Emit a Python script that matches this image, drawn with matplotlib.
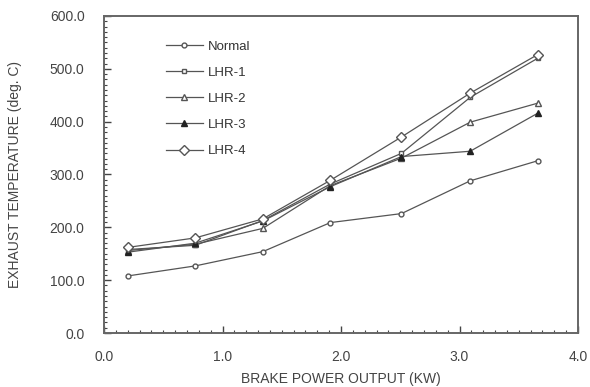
"""Exhaust temperature vs brake power output for normal and LHR engines."""

import matplotlib as mpl
import matplotlib.pyplot as plt
from matplotlib.ticker import MultipleLocator, FormatStrFormatter

mpl.rcParams["font.family"] = ["Liberation Sans", "DejaVu Sans"]

power = [0.2, 0.77, 1.34, 1.91, 2.51, 3.09, 3.66]
normal = [108, 127, 154, 209, 226, 288, 326]
lhr1 = [158, 166, 213, 282, 340, 446, 520]
lhr2 = [156, 168, 198, 279, 331, 399, 435]
lhr3 = [153, 170, 212, 277, 334, 344, 416]
lhr4 = [162, 180, 216, 289, 371, 454, 527]

GREY = "#555555"


def main():
    fig = plt.figure(figsize=(5.9, 3.87), dpi=100)
    ax = fig.add_axes([0.1763, 0.1395, 0.8034, 0.8192])

    style = dict(color=GREY, linewidth=0.9)
    ax.plot(power, normal, marker="o", ms=3.5, mfc="white", mec=GREY, label="Normal", **style)
    ax.plot(power, lhr1, marker="s", ms=3.5, mfc="white", mec=GREY, label="LHR-1", **style)
    ax.plot(power, lhr2, marker="^", ms=4.5, mfc="white", mec=GREY, label="LHR-2", **style)
    ax.plot(power, lhr3, marker="^", ms=4.5, mfc="#222222", mec="#222222", label="LHR-3", **style)
    ax.plot(power, lhr4, marker="D", ms=5.5, mfc="white", mec=GREY, label="LHR-4", **style)

    ax.set_xlim(0, 4)
    ax.set_ylim(0, 600)
    ax.xaxis.set_major_locator(MultipleLocator(1))
    ax.xaxis.set_minor_locator(MultipleLocator(0.1))
    ax.yaxis.set_major_locator(MultipleLocator(100))
    ax.yaxis.set_minor_locator(MultipleLocator(10))
    ax.xaxis.set_major_formatter(FormatStrFormatter("%.1f"))
    ax.yaxis.set_major_formatter(FormatStrFormatter("%.1f"))

    ax.tick_params(which="both", direction="in", colors="#444444", labelsize=10,
                   top=False, right=False)
    ax.tick_params(which="major", length=5, width=1.0)
    ax.tick_params(which="minor", length=2.5, width=0.8)
    ax.tick_params(axis="y", pad=14)
    ax.tick_params(axis="x", pad=12)
    for sp in ax.spines.values():
        sp.set_color("#666666")
        sp.set_linewidth(1.4)

    ax.set_xlabel("BRAKE POWER OUTPUT (KW)", fontsize=10, color="#444444", labelpad=6)
    ax.set_ylabel("EXHAUST TEMPERATURE (deg. C)", fontsize=10, color="#444444", labelpad=20)

    leg = ax.legend(loc="upper left", bbox_to_anchor=(0.105, 0.96), frameon=False,
                    fontsize=9.5, handlelength=2.8, handletextpad=0.4, labelspacing=1.05)
    for t in leg.get_texts():
        t.set_color("#333333")

    fig.savefig("out.png", dpi=100)
    plt.close(fig)


if __name__ == "__main__":
    main()
